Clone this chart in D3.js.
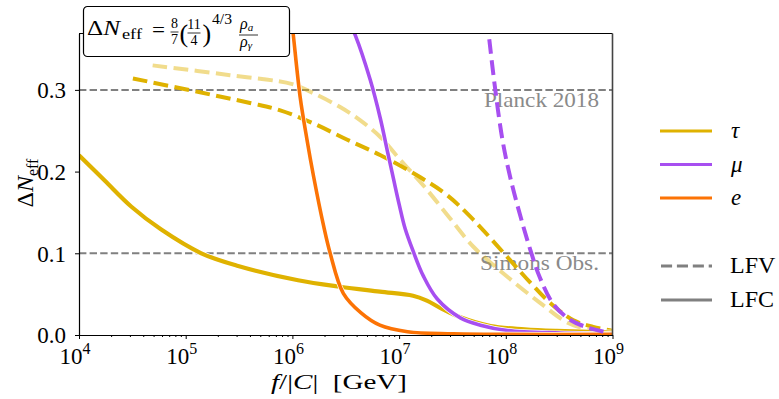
<!DOCTYPE html>
<html>
<head>
<meta charset="utf-8">
<script src="https://cdn.jsdelivr.net/npm/d3@7"></script>
<style>
  body { margin: 0; background: #fff; }
</style>
</head>
<body>
<div id="chart"></div>
<script>
/* DATA */
// f/|C| in GeV, Delta N_eff
const tauLfcF = [1.0e4, 1.74e4, 3.1e4, 5.9e4, 1.4e5, 3.1e5, 1.13e6, 2.8e6, 6.6e6, 1.35e7, 1.82e7, 2.45e7, 3.7e7, 7.2e7, 1.5e8, 3.0e8, 1.0e9];
const tauLfcV = [0.220, 0.189, 0.157, 0.129, 0.100, 0.0845, 0.067, 0.059, 0.053, 0.048, 0.042, 0.033, 0.022, 0.011, 0.007, 0.005, 0.003];

const tauLfvF = [3.2e4, 1.36e5, 4.0e5, 7.7e5, 1.57e6, 3.27e6, 6.7e6, 1.58e7, 2.83e7, 4.97e7, 1.04e8, 1.70e8, 2.62e8, 4.31e8, 6.6e8, 1.0e9];
const tauLfvV = [0.314, 0.297, 0.284, 0.275, 0.259, 0.239, 0.220, 0.193, 0.171, 0.141, 0.095, 0.064, 0.039, 0.018, 0.010, 0.005];

// lighter tau LFV curve
const tauLfv2F = [4.9e4, 2.6e5, 1.0e6, 1.57e6, 2.8e6, 4.3e6, 6.7e6, 1.03e7, 1.69e7, 2.83e7, 4.97e7, 1.04e8, 2.11e8, 3.8e8, 6.2e8, 1.0e9];
const tauLfv2V = [0.330, 0.318, 0.307, 0.296, 0.279, 0.263, 0.242, 0.214, 0.183, 0.147, 0.108, 0.071, 0.039, 0.015, 0.006, 0.002];

const muLfcF = [3.3e6, 3.88e6, 5.37e6, 6.67e6, 7.74e6, 8.83e6, 1.005e7, 1.14e7, 1.36e7, 1.69e7, 2.28e7, 3.75e7, 5.78e7, 1.04e8, 3.2e8, 1.0e9];
const muLfcV = [0.387, 0.367, 0.312, 0.265, 0.226, 0.192, 0.159, 0.130, 0.102, 0.072, 0.044, 0.021, 0.012, 0.0055, 0.0025, 0.0015];

const muLfvF = [7.0e7, 7.9e7, 9.3e7, 1.10e8, 1.38e8, 1.70e8, 2.09e8, 2.82e8, 4.07e8, 5.9e8, 7.2e8, 9.5e8];
const muLfvV = [0.362, 0.304, 0.239, 0.193, 0.144, 0.104, 0.070, 0.037, 0.018, 0.009, 0.006, 0.002];

const eLfcF = [9.8e5, 1.02e6, 1.18e6, 1.37e6, 1.58e6, 1.95e6, 2.26e6, 3.0e6, 4.4e6, 6.6e6, 1.2e7, 3.2e7, 1.0e9];
const eLfcV = [0.387, 0.367, 0.292, 0.239, 0.194, 0.135, 0.100, 0.051, 0.027, 0.012, 0.004, 0.0015, 0.0008];

const refValues = [0.3, 0.1];
const refLabels = ["Planck 2018", "Simons Obs."];

const xTickExps = [4, 5, 6, 7, 8, 9];
const yTickValues = [0.0, 0.1, 0.2, 0.3];

const legendFlavours = ["\u03c4", "\u03bc", "e"];
const legendStyles = ["LFV", "LFC"];

/* CONSTANTS */
const width = 779, height = 399;
const margin = { top: 33.5, bottom: 335, left: 79, right: 612.5 };
const gold = "#dfb200", purple = "#a74ff0", orange = "#fc7305", grey = "#808080";
const FONT = "'Liberation Serif', 'DejaVu Serif', 'Times New Roman', serif";

const svg = d3.select("#chart").append("svg")
  .attr("width", width)
  .attr("height", height)
  .style("font-family", FONT);

const xScale = d3.scaleLog().domain([1e4, 1e9]).range([margin.left, margin.right]);
const yScale = d3.scaleLinear().domain([0, 0.369]).range([margin.bottom, margin.top]);

svg.append("clipPath").attr("id", "plotclip")
  .append("rect")
  .attr("x", margin.left).attr("y", margin.top)
  .attr("width", margin.right - margin.left)
  .attr("height", margin.bottom - margin.top);

// reference lines
svg.append("g").selectAll("line")
  .data(refValues)
  .join("line")
    .attr("x1", margin.left).attr("x2", margin.right)
    .attr("y1", d => yScale(d)).attr("y2", d => yScale(d))
    .attr("stroke", grey)
    .attr("stroke-width", 2)
    .attr("stroke-dasharray", "7.4,3.2");

const refWidths = [115, 119];
svg.append("g").selectAll("text")
  .data(refValues)
  .join("text")
    .attr("x", (d, i) => 599 - refWidths[i])
    .attr("y", d => yScale(d) + 17)
    .attr("font-size", 22)
    .attr("fill", "#8a8a8a")
    .attr("textLength", (d, i) => refWidths[i])
    .attr("lengthAdjust", "spacingAndGlyphs")
    .text((d, i) => refLabels[i]);

// curves
const series = [
  { f: tauLfv2F, v: tauLfv2V, color: gold, opacity: 0.45, dash: "14.8,6.4", lw: 4 },
  { f: tauLfvF, v: tauLfvV, color: gold, opacity: 1, dash: "14.8,6.4", lw: 4 },
  { f: tauLfcF, v: tauLfcV, color: gold, opacity: 1, dash: null, lw: 4.2 },
  { f: muLfcF, v: muLfcV, color: purple, opacity: 1, dash: null, lw: 3.6 },
  { f: eLfcF, v: eLfcV, color: orange, opacity: 1, dash: null, lw: 3.6 },
  { f: muLfvF, v: muLfvV, color: purple, opacity: 1, dash: "14.8,6.4", lw: 4 }
];

const line = d3.line()
  .x(d => xScale(d[0]))
  .y(d => yScale(d[1]))
  .curve(d3.curveCatmullRom.alpha(0.5));

const curves = svg.append("g").attr("clip-path", "url(#plotclip)");
series.forEach(s => {
  const pts = s.f.map((f, i) => [f, s.v[i]]);
  if (!s.dash) {
    curves.append("path")
      .attr("d", line(pts))
      .attr("fill", "none")
      .attr("stroke", "#fff")
      .attr("stroke-width", s.lw + 1.4);
  }
  curves.append("path")
    .attr("d", line(pts))
    .attr("fill", "none")
    .attr("stroke", s.color)
    .attr("stroke-opacity", s.opacity)
    .attr("stroke-width", s.lw)
    .attr("stroke-dasharray", s.dash);
});

// spines
svg.append("line")
  .attr("x1", margin.left).attr("x2", margin.right)
  .attr("y1", margin.top).attr("y2", margin.top)
  .attr("stroke", "#000");
svg.append("line")
  .attr("x1", margin.right).attr("x2", margin.right)
  .attr("y1", margin.top).attr("y2", margin.bottom)
  .attr("stroke", "#444").attr("stroke-width", 1.6);

// axes
const minorTicks = [];
xTickExps.slice(0, -1).forEach(e => {
  for (let k = 2; k <= 9; k++) minorTicks.push(k * Math.pow(10, e));
});

svg.append("g")
  .attr("transform", `translate(0,${margin.bottom})`)
  .call(d3.axisBottom(xScale).tickValues(minorTicks).tickSize(2).tickFormat(""))
  .call(g => g.select(".domain").remove());

const xAxis = svg.append("g")
  .attr("transform", `translate(0,${margin.bottom})`)
  .call(d3.axisBottom(xScale)
    .tickValues(xTickExps.map(e => Math.pow(10, e)))
    .tickSize(4).tickSizeOuter(0).tickFormat(""));
xAxis.select(".domain").attr("stroke-width", 1.2);

svg.append("g").selectAll("text")
  .data(xTickExps)
  .join("text")
    .attr("x", d => xScale(Math.pow(10, d)) - 4)
    .attr("y", 364)
    .attr("text-anchor", "middle")
    .attr("font-size", 23)
    .text("10")
    .append("tspan")
      .attr("dy", -10)
      .attr("font-size", 16)
      .text(d => d);

const yAxis = svg.append("g")
  .attr("transform", `translate(${margin.left},0)`)
  .call(d3.axisLeft(yScale)
    .tickValues(yTickValues)
    .tickSize(4).tickSizeOuter(0).tickPadding(9)
    .tickFormat(d3.format(".1f")));
yAxis.style("font-family", FONT);
yAxis.selectAll("text")
  .attr("font-size", 23)
  .attr("dy", "0.34em");
yAxis.select(".domain").attr("stroke-width", 1.2);

// axis titles
const xLabel = svg.append("text")
  .attr("x", 271).attr("y", 389)
  .attr("font-size", 22)
  .attr("textLength", 136)
  .attr("lengthAdjust", "spacingAndGlyphs");
xLabel.append("tspan").attr("font-style", "italic").text("f");
xLabel.append("tspan").text("/|");
xLabel.append("tspan").attr("font-style", "italic").text("C");
xLabel.append("tspan").text("|\u2002[GeV]");

const yLabel = svg.append("text")
  .attr("transform", "translate(33,183) rotate(-90)")
  .attr("text-anchor", "middle")
  .attr("font-size", 24);
yLabel.append("tspan").text("\u0394");
yLabel.append("tspan").attr("font-style", "italic").text("N");
yLabel.append("tspan").attr("font-size", 16).attr("dy", 5).text("eff");

// formula box
const box = svg.append("g");
box.append("rect")
  .attr("x", 83.5).attr("y", 6.5)
  .attr("width", 206).attr("height", 50)
  .attr("rx", 4)
  .attr("fill", "#fff")
  .attr("stroke", "#000")
  .attr("stroke-width", 1.2);

function piece(x, y, size, str, len, italic) {
  const t = box.append("text").attr("x", x).attr("y", y).attr("font-size", size)
    .attr("font-style", italic ? "italic" : null).text(str);
  if (len) t.attr("textLength", len).attr("lengthAdjust", "spacingAndGlyphs");
  return t;
}
const dn = box.append("text").attr("x", 87).attr("y", 35).attr("font-size", 20)
  .attr("textLength", 33).attr("lengthAdjust", "spacingAndGlyphs");
dn.append("tspan").text("\u0394");
dn.append("tspan").attr("font-style", "italic").text("N");
piece(122, 39, 14, "eff", 20);
piece(152, 37, 20, "=", 13);

function frac(cx, top, bottom, barY, barW, size) {
  box.append("text").attr("x", cx).attr("y", barY - 4)
    .attr("text-anchor", "middle").attr("font-size", size).text(top);
  box.append("line")
    .attr("x1", cx - barW / 2).attr("x2", cx + barW / 2)
    .attr("y1", barY).attr("y2", barY)
    .attr("stroke", "#000").attr("stroke-width", 0.8);
  box.append("text").attr("x", cx).attr("y", barY + 12)
    .attr("text-anchor", "middle").attr("font-size", size).text(bottom);
}
frac(174.5, "8", "7", 32, 8, 14);
piece(179.5, 42, 26, "(");
frac(194, "11", "4", 33, 13, 14);
piece(202.5, 42, 26, ")");
piece(212, 24, 14, "4/3", 20);

const rhoA = box.append("text").attr("x", 240).attr("y", 29).attr("font-size", 16);
rhoA.append("tspan").attr("font-style", "italic").text("\u03c1");
rhoA.append("tspan").attr("font-size", 11).attr("font-style", "italic").attr("dy", 2).text("a");
box.append("line").attr("x1", 239).attr("x2", 258).attr("y1", 35).attr("y2", 35)
  .attr("stroke", "#000").attr("stroke-width", 0.8);
const rhoG = box.append("text").attr("x", 240).attr("y", 47).attr("font-size", 16);
rhoG.append("tspan").attr("font-style", "italic").text("\u03c1");
rhoG.append("tspan").attr("font-size", 11).attr("font-style", "italic").attr("dy", 2).text("\u03b3");

// legend
const legendColors = [gold, purple, orange];
const legend = svg.append("g");
legend.selectAll(".flav")
  .data(legendFlavours)
  .join("line")
    .attr("class", "flav")
    .attr("x1", 660).attr("x2", 712)
    .attr("y1", (d, i) => 131 + i * 33.5).attr("y2", (d, i) => 131 + i * 33.5)
    .attr("stroke", (d, i) => legendColors[i])
    .attr("stroke-width", 3);
legend.selectAll(".flavtxt")
  .data(legendFlavours)
  .join("text")
    .attr("class", "flavtxt")
    .attr("x", 731).attr("y", (d, i) => 138 + i * 33.5)
    .attr("font-size", 23)
    .attr("font-style", "italic")
    .text(d => d);
legend.selectAll(".sty")
  .data(legendStyles)
  .join("line")
    .attr("class", "sty")
    .attr("x1", 661).attr("x2", 712)
    .attr("y1", (d, i) => 266 + i * 34).attr("y2", (d, i) => 266 + i * 34)
    .attr("stroke", grey)
    .attr("stroke-width", 3)
    .attr("stroke-dasharray", (d, i) => i === 0 ? "11.1,4.8" : null);
legend.selectAll(".stytxt")
  .data(legendStyles)
  .join("text")
    .attr("class", "stytxt")
    .attr("x", 730).attr("y", (d, i) => 273 + i * 34)
    .attr("font-size", 24)
    .text(d => d);
</script>
</body>
</html>
